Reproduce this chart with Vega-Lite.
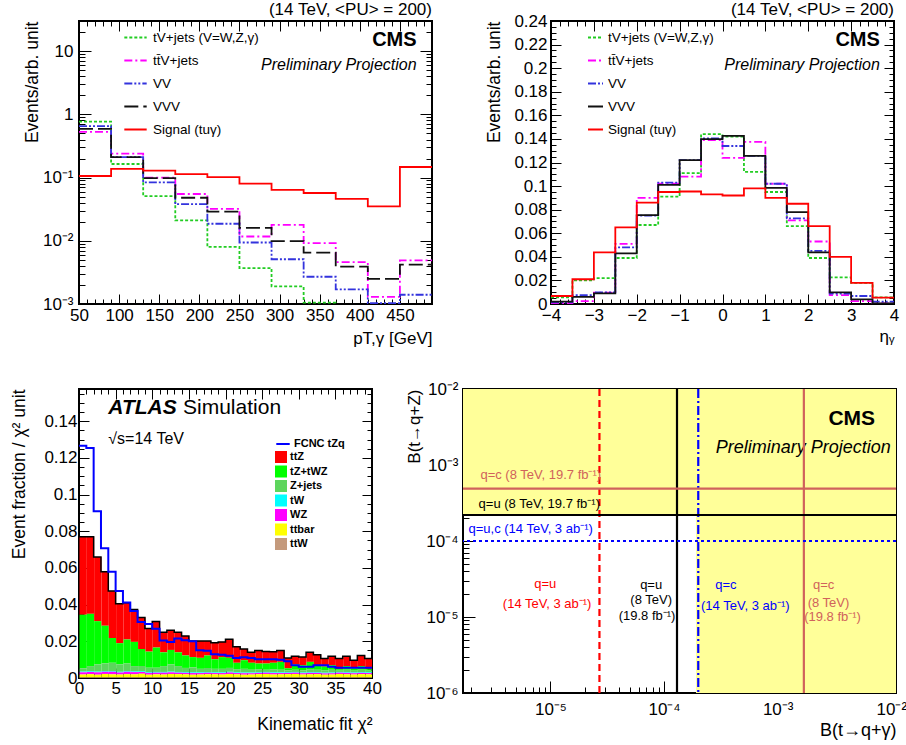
{
"$schema": "https://vega.github.io/schema/vega-lite/v6.json",
"background": "white",
"padding": {"left": 8, "top": 0, "right": 0, "bottom": 0},
"config": {
  "font": "Liberation Sans",
  "view": {"stroke": "black", "strokeWidth": 2},
  "axis": {"labelFont": "Liberation Sans", "titleFont": "Liberation Sans", "labelColor": "black", "titleColor": "black", "tickColor": "black", "tickWidth": 1, "domain": false, "grid": false, "labelFlush": false, "labelOverlap": false, "titleFontWeight": "normal", "labelBound": false, "zindex": 1},
  "legend": {"labelFont": "Liberation Sans", "labelColor": "black"},
  "title": {"font": "Liberation Sans", "color": "black", "fontWeight": "normal"}
},
"datasets": {
  "p1": [
    {"x":50,"tV+jets (V=W,Z,γ)":0.77,"tt̄V+jets":0.53,"VV":0.65,"VVV":0.59,"Signal (tuγ)":0.106},
    {"x":90,"tV+jets (V=W,Z,γ)":0.164,"tt̄V+jets":0.24,"VV":0.21,"VVV":0.21,"Signal (tuγ)":0.137},
    {"x":130,"tV+jets (V=W,Z,γ)":0.051,"tt̄V+jets":0.10,"VV":0.084,"VVV":0.098,"Signal (tuγ)":0.129},
    {"x":170,"tV+jets (V=W,Z,γ)":0.021,"tt̄V+jets":0.055,"VV":0.038,"VVV":0.048,"Signal (tuγ)":0.113},
    {"x":210,"tV+jets (V=W,Z,γ)":0.008,"tt̄V+jets":0.032,"VV":0.0186,"VVV":0.029,"Signal (tuγ)":0.102},
    {"x":250,"tV+jets (V=W,Z,γ)":0.0037,"tt̄V+jets":0.0117,"VV":0.0094,"VVV":0.016,"Signal (tuγ)":0.080},
    {"x":290,"tV+jets (V=W,Z,γ)":0.0019,"tt̄V+jets":0.0178,"VV":0.0051,"VVV":0.0099,"Signal (tuγ)":0.064},
    {"x":330,"tV+jets (V=W,Z,γ)":0.00105,"tt̄V+jets":0.0092,"VV":0.0027,"VVV":0.0065,"Signal (tuγ)":0.057},
    {"x":370,"tV+jets (V=W,Z,γ)":0.0009,"tt̄V+jets":0.0046,"VV":0.0017,"VVV":0.0039,"Signal (tuγ)":0.046},
    {"x":410,"tV+jets (V=W,Z,γ)":0.0009,"tt̄V+jets":0.0013,"VV":0.00103,"VVV":0.0025,"Signal (tuγ)":0.035},
    {"x":450,"tV+jets (V=W,Z,γ)":0.0009,"tt̄V+jets":0.0049,"VV":0.0014,"VVV":0.0042,"Signal (tuγ)":0.147},
    {"x":490,"tV+jets (V=W,Z,γ)":0.0009,"tt̄V+jets":0.0049,"VV":0.0014,"VVV":0.0042,"Signal (tuγ)":0.147}
  ],
  "p2": [
    {"x":-4,"tV+jets (V=W,Z,γ)":0.0056,"tt̄V+jets":0.0006,"VV":0.0014,"VVV":0.002,"Signal (tuγ)":0.0068},
    {"x":-3.5,"tV+jets (V=W,Z,γ)":0.020,"tt̄V+jets":0.0025,"VV":0.0076,"VVV":0.006,"Signal (tuγ)":0.021},
    {"x":-3,"tV+jets (V=W,Z,γ)":0.022,"tt̄V+jets":0.0096,"VV":0.0099,"VVV":0.009,"Signal (tuγ)":0.0438},
    {"x":-2.5,"tV+jets (V=W,Z,γ)":0.039,"tt̄V+jets":0.051,"VV":0.048,"VVV":0.043,"Signal (tuγ)":0.065},
    {"x":-2,"tV+jets (V=W,Z,γ)":0.067,"tt̄V+jets":0.090,"VV":0.075,"VVV":0.0754,"Signal (tuγ)":0.086},
    {"x":-1.5,"tV+jets (V=W,Z,γ)":0.091,"tt̄V+jets":0.102,"VV":0.103,"VVV":0.101,"Signal (tuγ)":0.095},
    {"x":-1,"tV+jets (V=W,Z,γ)":0.111,"tt̄V+jets":0.108,"VV":0.122,"VVV":0.122,"Signal (tuγ)":0.0954},
    {"x":-0.5,"tV+jets (V=W,Z,γ)":0.144,"tt̄V+jets":0.139,"VV":0.1405,"VVV":0.1398,"Signal (tuγ)":0.093},
    {"x":0,"tV+jets (V=W,Z,γ)":0.142,"tt̄V+jets":0.124,"VV":0.134,"VVV":0.1426,"Signal (tuγ)":0.092},
    {"x":0.5,"tV+jets (V=W,Z,γ)":0.112,"tt̄V+jets":0.1375,"VV":0.1256,"VVV":0.1256,"Signal (tuγ)":0.098},
    {"x":1,"tV+jets (V=W,Z,γ)":0.095,"tt̄V+jets":0.102,"VV":0.102,"VVV":0.0985,"Signal (tuγ)":0.090},
    {"x":1.5,"tV+jets (V=W,Z,γ)":0.066,"tt̄V+jets":0.071,"VV":0.0726,"VVV":0.078,"Signal (tuγ)":0.085},
    {"x":2,"tV+jets (V=W,Z,γ)":0.039,"tt̄V+jets":0.053,"VV":0.045,"VVV":0.0438,"Signal (tuγ)":0.066},
    {"x":2.5,"tV+jets (V=W,Z,γ)":0.0226,"tt̄V+jets":0.0076,"VV":0.0088,"VVV":0.0099,"Signal (tuγ)":0.040},
    {"x":3,"tV+jets (V=W,Z,γ)":0.018,"tt̄V+jets":0.0025,"VV":0.0068,"VVV":0.004,"Signal (tuγ)":0.018},
    {"x":3.5,"tV+jets (V=W,Z,γ)":0.0056,"tt̄V+jets":0.0006,"VV":0.002,"VVV":0.0006,"Signal (tuγ)":0.0054},
    {"x":4,"tV+jets (V=W,Z,γ)":0.0056,"tt̄V+jets":0.0006,"VV":0.002,"VVV":0.0006,"Signal (tuγ)":0.0054}
  ],
  "p3": [
    {"b":0,"e":1,"ttZ":0.0425,"tZ+tWZ":0.0292,"Z+jets":0.0018,"tW":0.0004,"WZ":0.0012,"ttbar":0.0016,"ttW":0.0003,"f":0.1266},
    {"b":1,"e":2,"ttZ":0.042,"tZ+tWZ":0.0285,"Z+jets":0.0028,"tW":0.0004,"WZ":0.0012,"ttbar":0.0018,"ttW":0.0003,"f":0.1254},
    {"b":2,"e":3,"ttZ":0.035,"tZ+tWZ":0.0236,"Z+jets":0.0039,"tW":0.0004,"WZ":0.0013,"ttbar":0.0015,"ttW":0.0003,"f":0.091},
    {"b":3,"e":4,"ttZ":0.0295,"tZ+tWZ":0.0205,"Z+jets":0.0042,"tW":0.0004,"WZ":0.0012,"ttbar":0.0019,"ttW":0.0003,"f":0.0708},
    {"b":4,"e":5,"ttZ":0.0256,"tZ+tWZ":0.0135,"Z+jets":0.0045,"tW":0.0004,"WZ":0.0014,"ttbar":0.0017,"ttW":0.0003,"f":0.058},
    {"b":5,"e":6,"ttZ":0.0215,"tZ+tWZ":0.0116,"Z+jets":0.004,"tW":0.0004,"WZ":0.0011,"ttbar":0.0016,"ttW":0.0003,"f":0.0475},
    {"b":6,"e":7,"ttZ":0.02,"tZ+tWZ":0.0131,"Z+jets":0.0041,"tW":0.0004,"WZ":0.0013,"ttbar":0.0018,"ttW":0.0003,"f":0.0412},
    {"b":7,"e":8,"ttZ":0.0176,"tZ+tWZ":0.0132,"Z+jets":0.0029,"tW":0.0004,"WZ":0.0012,"ttbar":0.0017,"ttW":0.0003,"f":0.0365},
    {"b":8,"e":9,"ttZ":0.0172,"tZ+tWZ":0.0093,"Z+jets":0.0028,"tW":0.0004,"WZ":0.001,"ttbar":0.002,"ttW":0.0003,"f":0.0306},
    {"b":9,"e":10,"ttZ":0.0126,"tZ+tWZ":0.0088,"Z+jets":0.0024,"tW":0.0004,"WZ":0.001,"ttbar":0.0015,"ttW":0.0003,"f":0.0294},
    {"b":10,"e":11,"ttZ":0.0142,"tZ+tWZ":0.011,"Z+jets":0.0023,"tW":0.0004,"WZ":0.0009,"ttbar":0.0017,"ttW":0.0003,"f":0.0268},
    {"b":11,"e":12,"ttZ":0.011,"tZ+tWZ":0.0075,"Z+jets":0.0032,"tW":0.0004,"WZ":0.001,"ttbar":0.0016,"ttW":0.0003,"f":0.0204},
    {"b":12,"e":13,"ttZ":0.0107,"tZ+tWZ":0.0079,"Z+jets":0.0039,"tW":0.0004,"WZ":0.0009,"ttbar":0.0019,"ttW":0.0003,"f":0.0197},
    {"b":13,"e":14,"ttZ":0.011,"tZ+tWZ":0.0075,"Z+jets":0.0032,"tW":0.0004,"WZ":0.0008,"ttbar":0.0018,"ttW":0.0003,"f":0.0215},
    {"b":14,"e":15,"ttZ":0.0106,"tZ+tWZ":0.0068,"Z+jets":0.0023,"tW":0.0004,"WZ":0.0008,"ttbar":0.0017,"ttW":0.0003,"f":0.0206},
    {"b":15,"e":16,"ttZ":0.0088,"tZ+tWZ":0.0056,"Z+jets":0.0027,"tW":0.0004,"WZ":0.0009,"ttbar":0.0015,"ttW":0.0003,"f":0.02},
    {"b":16,"e":17,"ttZ":0.0092,"tZ+tWZ":0.006,"Z+jets":0.0019,"tW":0.0004,"WZ":0.0008,"ttbar":0.0016,"ttW":0.0003,"f":0.0151},
    {"b":17,"e":18,"ttZ":0.0079,"tZ+tWZ":0.0068,"Z+jets":0.0022,"tW":0.0004,"WZ":0.0008,"ttbar":0.0018,"ttW":0.0003,"f":0.0148},
    {"b":18,"e":19,"ttZ":0.009,"tZ+tWZ":0.0052,"Z+jets":0.0019,"tW":0.0004,"WZ":0.0007,"ttbar":0.0017,"ttW":0.0003,"f":0.013},
    {"b":19,"e":20,"ttZ":0.0083,"tZ+tWZ":0.0064,"Z+jets":0.0019,"tW":0.0004,"WZ":0.0008,"ttbar":0.0016,"ttW":0.0003,"f":0.0127},
    {"b":20,"e":21,"ttZ":0.0101,"tZ+tWZ":0.0055,"Z+jets":0.0021,"tW":0.0004,"WZ":0.0008,"ttbar":0.0019,"ttW":0.0003,"f":0.0121},
    {"b":21,"e":22,"ttZ":0.0088,"tZ+tWZ":0.0035,"Z+jets":0.0017,"tW":0.0004,"WZ":0.0007,"ttbar":0.0017,"ttW":0.0003,"f":0.0109},
    {"b":22,"e":23,"ttZ":0.0061,"tZ+tWZ":0.0047,"Z+jets":0.002,"tW":0.0004,"WZ":0.0008,"ttbar":0.0015,"ttW":0.0003,"f":0.0113},
    {"b":23,"e":24,"ttZ":0.0058,"tZ+tWZ":0.0038,"Z+jets":0.0015,"tW":0.0004,"WZ":0.0007,"ttbar":0.0016,"ttW":0.0003,"f":0.0109},
    {"b":24,"e":25,"ttZ":0.0071,"tZ+tWZ":0.0031,"Z+jets":0.0016,"tW":0.0004,"WZ":0.0007,"ttbar":0.0018,"ttW":0.0003,"f":0.0102},
    {"b":25,"e":26,"ttZ":0.0065,"tZ+tWZ":0.0034,"Z+jets":0.0012,"tW":0.0004,"WZ":0.0007,"ttbar":0.0019,"ttW":0.0003,"f":0.0102},
    {"b":26,"e":27,"ttZ":0.006,"tZ+tWZ":0.0035,"Z+jets":0.0017,"tW":0.0004,"WZ":0.0008,"ttbar":0.0016,"ttW":0.0003,"f":0.0102},
    {"b":27,"e":28,"ttZ":0.0062,"tZ+tWZ":0.0043,"Z+jets":0.0014,"tW":0.0004,"WZ":0.0007,"ttbar":0.0017,"ttW":0.0003,"f":0.0099},
    {"b":28,"e":29,"ttZ":0.0056,"tZ+tWZ":0.0011,"Z+jets":0.001,"tW":0.0004,"WZ":0.0007,"ttbar":0.0018,"ttW":0.0003,"f":0.0092},
    {"b":29,"e":30,"ttZ":0.0044,"tZ+tWZ":0.0029,"Z+jets":0.0012,"tW":0.0004,"WZ":0.0007,"ttbar":0.0019,"ttW":0.0003,"f":0.007},
    {"b":30,"e":31,"ttZ":0.0044,"tZ+tWZ":0.0028,"Z+jets":0.0012,"tW":0.0004,"WZ":0.0007,"ttbar":0.0016,"ttW":0.0003,"f":0.0062},
    {"b":31,"e":32,"ttZ":0.0053,"tZ+tWZ":0.004,"Z+jets":0.0016,"tW":0.0004,"WZ":0.0008,"ttbar":0.0017,"ttW":0.0003,"f":0.0062},
    {"b":32,"e":33,"ttZ":0.0057,"tZ+tWZ":0.0025,"Z+jets":0.0013,"tW":0.0004,"WZ":0.0007,"ttbar":0.0018,"ttW":0.0003,"f":0.007},
    {"b":33,"e":34,"ttZ":0.0044,"tZ+tWZ":0.002,"Z+jets":0.0013,"tW":0.0004,"WZ":0.0007,"ttbar":0.0015,"ttW":0.0003,"f":0.007},
    {"b":34,"e":35,"ttZ":0.0048,"tZ+tWZ":0.0025,"Z+jets":0.0015,"tW":0.0004,"WZ":0.0007,"ttbar":0.0016,"ttW":0.0003,"f":0.0062},
    {"b":35,"e":36,"ttZ":0.0058,"tZ+tWZ":0.0008,"Z+jets":0.0007,"tW":0.0004,"WZ":0.0007,"ttbar":0.0019,"ttW":0.0003,"f":0.0056},
    {"b":36,"e":37,"ttZ":0.0053,"tZ+tWZ":0.002,"Z+jets":0.0013,"tW":0.0004,"WZ":0.0008,"ttbar":0.0017,"ttW":0.0003,"f":0.0056},
    {"b":37,"e":38,"ttZ":0.0044,"tZ+tWZ":0.0013,"Z+jets":0.001,"tW":0.0004,"WZ":0.0007,"ttbar":0.0016,"ttW":0.0003,"f":0.0056},
    {"b":38,"e":39,"ttZ":0.0058,"tZ+tWZ":0.002,"Z+jets":0.0013,"tW":0.0004,"WZ":0.0007,"ttbar":0.0018,"ttW":0.0003,"f":0.0056},
    {"b":39,"e":40,"ttZ":0.0058,"tZ+tWZ":0.0008,"Z+jets":0.0009,"tW":0.0004,"WZ":0.0007,"ttbar":0.0017,"ttW":0.0003,"f":0.0056},
    {"b":40,"e":41,"ttZ":0.0058,"tZ+tWZ":0.0008,"Z+jets":0.0009,"tW":0.0004,"WZ":0.0007,"ttbar":0.0017,"ttW":0.0003,"f":0.0056}
  ],
  "p3order": [
    {"p":"ttW","o":0},{"p":"ttbar","o":1},{"p":"WZ","o":2},{"p":"tW","o":3},{"p":"Z+jets","o":4},{"p":"tZ+tWZ","o":5},{"p":"ttZ","o":6}
  ],
  "p4regions": [
    {"x1":1.7e-6,"x2":0.011,"y1":2.2e-4,"y2":0.01},
    {"x1":1.91e-4,"x2":0.011,"y1":1e-6,"y2":2.2e-4}
  ],
  "p4lines": [
    {"dir":"v","val":2.7e-5,"lim":"u14"},
    {"dir":"v","val":1.3e-4,"lim":"u8"},
    {"dir":"v","val":2.0e-4,"lim":"c14"},
    {"dir":"v","val":1.7e-3,"lim":"c8"},
    {"dir":"h","val":4.9e-4,"lim":"c8"},
    {"dir":"h","val":2.2e-4,"lim":"u8"},
    {"dir":"h","val":1e-4,"lim":"uc14"}
  ],
  "p4text": [
    {"dir":"h","x":2.42e-6,"y":7.33e-4,"t":"q=c (8 TeV, 19.7 fb⁻¹)","lim":"c8"},
    {"dir":"h","x":2.33e-6,"y":3.05e-4,"t":"q=u (8 TeV, 19.7 fb⁻¹)","lim":"u8"},
    {"dir":"h","x":1.9e-6,"y":1.42e-4,"t":"q=u,c (14 TeV, 3 ab⁻¹)","lim":"uc14"},
    {"dir":"v","x":9.0e-6,"y":2.73e-5,"t":"q=u","lim":"u14"},
    {"dir":"v","x":9.35e-6,"y":1.49e-5,"t":"(14 TeV, 3 ab⁻¹)","lim":"u14"},
    {"dir":"v","x":7.7e-5,"y":2.6e-5,"t":"q=u","lim":"u8"},
    {"dir":"v","x":7.7e-5,"y":1.67e-5,"t":"(8 TeV)","lim":"u8"},
    {"dir":"v","x":7.08e-5,"y":1.02e-5,"t":"(19.8 fb⁻¹)","lim":"u8"},
    {"dir":"v","x":3.5e-4,"y":2.6e-5,"t":"q=c","lim":"c14"},
    {"dir":"v","x":5.19e-4,"y":1.39e-5,"t":"(14 TeV, 3 ab⁻¹)","lim":"c14"},
    {"dir":"v","x":2.54e-3,"y":2.6e-5,"t":"q=c","lim":"c8"},
    {"dir":"v","x":2.8e-3,"y":1.54e-5,"t":"(8 TeV)","lim":"c8"},
    {"dir":"v","x":3.04e-3,"y":9.95e-6,"t":"(19.8 fb⁻¹)","lim":"c8"}
  ]
},
"spacing": 32,
"resolve": {"scale": {"color": "independent", "strokeDash": "independent", "fill": "independent", "stroke": "independent", "x": "independent", "y": "independent"}, "legend": {"color": "independent", "strokeDash": "independent", "fill": "independent", "stroke": "independent"}},
"vconcat": [
 {
  "spacing": 50,
  "resolve": {"scale": {"color": "independent", "strokeDash": "independent", "x": "independent", "y": "independent"}, "legend": {"color": "independent", "strokeDash": "independent"}},
  "hconcat": [
   {
    "width": 353, "height": 283,
    "title": {"text": "(14 TeV, <PU> = 200)", "anchor": "end", "frame": "group", "fontSize": 17, "offset": -7},
    "resolve": {"axis": {"x": "independent", "y": "independent"}},
    "layer": [
     {
      "data": {"name": "p1"},
      "transform": [{"fold": ["tV+jets (V=W,Z,γ)", "tt̄V+jets", "VV", "VVV", "Signal (tuγ)"], "as": ["s", "v"]}],
      "mark": {"type": "line", "interpolate": "step-after", "strokeWidth": 1.8, "clip": true},
      "encoding": {
        "x": {"field": "x", "type": "quantitative", "scale": {"domain": [50, 490], "nice": false, "zero": false},
              "axis": {"title": "pT,γ [GeV]", "titleAnchor": "end", "titleFontSize": 17, "titlePadding": 2, "labelFontSize": 17, "labelPadding": 13, "tickCount": 44,
                       "labelExpr": "abs(datum.value/50 - round(datum.value/50)) < 0.001 ? format(datum.value, 'd') : ''",
                       "tickSize": {"condition": {"test": "abs(datum.value/50 - round(datum.value/50)) < 0.001", "value": -10}, "value": -5}}},
        "y": {"field": "v", "type": "quantitative", "scale": {"type": "log", "domain": [0.001, 30], "nice": false},
              "axis": {"title": "Events/arb. unit", "titleAnchor": "end", "titleFontSize": 17.5, "titlePadding": 3, "labelFontSize": 17, "labelPadding": 18, "minExtent": 35, "maxExtent": 35, "tickCount": 30,
                       "labelExpr": "abs(log(datum.value)/LN10 - round(log(datum.value)/LN10)) < 0.001 ? ['10⁻⁶','10⁻⁵','10⁻⁴','10⁻³','10⁻²','10⁻¹','1','10'][round(log(datum.value)/LN10) + 6] : ''",
                       "tickSize": {"condition": {"test": "abs(log(datum.value)/LN10 - round(log(datum.value)/LN10)) < 0.001", "value": -12}, "value": -6}}},
        "color": {"field": "s", "type": "nominal",
                  "scale": {"domain": ["tV+jets (V=W,Z,γ)", "tt̄V+jets", "VV", "VVV", "Signal (tuγ)"], "range": ["#22cc22", "#ff00ff", "#3333dd", "#111111", "#ff0000"]},
                  "legend": {"title": null, "orient": "none", "legendX": 44, "legendY": 4, "symbolType": "stroke", "symbolSize": 500, "symbolStrokeWidth": 2, "labelFontSize": 13.5, "rowPadding": 4, "labelOffset": 5, "labelLimit": 400}},
        "strokeDash": {"field": "s", "type": "nominal",
                  "scale": {"domain": ["tV+jets (V=W,Z,γ)", "tt̄V+jets", "VV", "VVV", "Signal (tuγ)"], "range": [[3,2],[8,3,2,3],[8,2,2,2,2,2],[14,5],[1,0]]},
                  "legend": {"title": null, "orient": "none", "legendX": 44, "legendY": 4, "symbolType": "stroke", "symbolSize": 500, "symbolStrokeWidth": 2, "labelFontSize": 13.5, "rowPadding": 4, "labelOffset": 5, "labelLimit": 400}}
      }
     },
     {"data": {"values": [{}]}, "mark": {"type": "text", "align": "right", "fontWeight": "bold", "fontSize": 20},
      "encoding": {
        "x": {"datum": 470.8, "axis": {"orient": "top", "labels": false, "title": null, "minExtent": 0, "maxExtent": 0, "tickCount": 44, "tickSize": {"condition": {"test": "abs(datum.value/50 - round(datum.value/50)) < 0.001", "value": -10}, "value": -5}}},
        "y": {"datum": 14.9, "axis": {"orient": "right", "labels": false, "title": null, "minExtent": 0, "maxExtent": 0, "tickCount": 30, "tickSize": {"condition": {"test": "abs(log(datum.value)/LN10 - round(log(datum.value)/LN10)) < 0.001", "value": -12}, "value": -6}}},
        "text": {"value": "CMS"}}},
     {"data": {"values": [{}]}, "mark": {"type": "text", "align": "right", "fontStyle": "italic", "fontSize": 16}, "encoding": {"x": {"datum": 470.8, "axis": null}, "y": {"datum": 6.14, "axis": null}, "text": {"value": "Preliminary Projection"}}}
    ]
   },
   {
    "width": 343, "height": 283,
    "title": {"text": "(14 TeV, <PU> = 200)", "anchor": "end", "frame": "group", "fontSize": 17, "offset": -7},
    "resolve": {"axis": {"x": "independent", "y": "independent"}},
    "layer": [
     {
      "data": {"name": "p2"},
      "transform": [{"fold": ["tV+jets (V=W,Z,γ)", "tt̄V+jets", "VV", "VVV", "Signal (tuγ)"], "as": ["s", "v"]}],
      "mark": {"type": "line", "interpolate": "step-after", "strokeWidth": 1.8, "clip": true},
      "encoding": {
        "x": {"field": "x", "type": "quantitative", "scale": {"domain": [-4, 4], "nice": false},
              "axis": {"title": "ηᵧ", "titleAnchor": "end", "titleFontSize": 17, "titlePadding": 0, "labelFontSize": 17, "labelPadding": 13, "tickCount": 32,
                       "labelExpr": "abs(datum.value - round(datum.value)) < 0.001 ? format(round(datum.value), 'd') : ''",
                       "tickSize": {"condition": {"test": "abs(datum.value - round(datum.value)) < 0.001", "value": -10}, "value": -5}}},
        "y": {"field": "v", "type": "quantitative", "scale": {"domain": [0, 0.24], "nice": false},
              "axis": {"title": "Events/arb. unit", "titleAnchor": "end", "titleFontSize": 17.5, "titlePadding": 10, "labelFontSize": 17, "labelPadding": 14, "minExtent": 38, "maxExtent": 38, "tickCount": 48,
                       "labelExpr": "abs(datum.value/0.02 - round(datum.value/0.02)) < 0.001 ? format(datum.value, '~g') : ''",
                       "tickSize": {"condition": {"test": "abs(datum.value/0.02 - round(datum.value/0.02)) < 0.001", "value": -10}, "value": -5}}},
        "color": {"field": "s", "type": "nominal",
                  "scale": {"domain": ["tV+jets (V=W,Z,γ)", "tt̄V+jets", "VV", "VVV", "Signal (tuγ)"], "range": ["#22cc22", "#ff00ff", "#3333dd", "#111111", "#ff0000"]},
                  "legend": {"title": null, "orient": "none", "legendX": 36, "legendY": 8, "symbolType": "stroke", "symbolSize": 225, "symbolStrokeWidth": 2, "labelFontSize": 13.5, "rowPadding": 8, "labelOffset": 4, "labelLimit": 400}},
        "strokeDash": {"field": "s", "type": "nominal",
                  "scale": {"domain": ["tV+jets (V=W,Z,γ)", "tt̄V+jets", "VV", "VVV", "Signal (tuγ)"], "range": [[3,2],[8,3,2,3],[8,2,2,2,2,2],[1,0],[1,0]]},
                  "legend": {"title": null, "orient": "none", "legendX": 36, "legendY": 8, "symbolType": "stroke", "symbolSize": 225, "symbolStrokeWidth": 2, "labelFontSize": 13.5, "rowPadding": 8, "labelOffset": 4, "labelLimit": 400}}
      }
     },
     {"data": {"values": [{}]}, "mark": {"type": "text", "align": "right", "fontWeight": "bold", "fontSize": 20},
      "encoding": {
        "x": {"datum": 3.67, "axis": {"orient": "top", "labels": false, "title": null, "minExtent": 0, "maxExtent": 0, "tickCount": 32, "tickSize": {"condition": {"test": "abs(datum.value - round(datum.value)) < 0.001", "value": -10}, "value": -5}}},
        "y": {"datum": 0.2236, "axis": {"orient": "right", "labels": false, "title": null, "minExtent": 0, "maxExtent": 0, "tickCount": 48, "tickSize": {"condition": {"test": "abs(datum.value/0.02 - round(datum.value/0.02)) < 0.001", "value": -10}, "value": -5}}},
        "text": {"value": "CMS"}}},
     {"data": {"values": [{}]}, "mark": {"type": "text", "align": "right", "fontStyle": "italic", "fontSize": 16}, "encoding": {"x": {"datum": 3.67, "axis": null}, "y": {"datum": 0.2029, "axis": null}, "text": {"value": "Preliminary Projection"}}}
    ]
   }
  ]
 },
 {
  "spacing": 21,
  "resolve": {"scale": {"fill": "independent", "stroke": "independent", "color": "independent", "strokeDash": "independent", "x": "independent", "y": "independent"}, "legend": {"fill": "independent", "stroke": "independent", "color": "independent", "strokeDash": "independent"}},
  "hconcat": [
   {
    "width": 293, "height": 289,
    "resolve": {"axis": {"x": "independent", "y": "independent"}},
    "layer": [
     {
      "data": {"name": "p3"},
      "transform": [
        {"fold": ["ttZ", "tZ+tWZ", "Z+jets", "tW", "WZ", "ttbar", "ttW"], "as": ["p", "v"]},
        {"lookup": "p", "from": {"data": {"name": "p3order"}, "key": "p", "fields": ["o"]}}
      ],
      "mark": {"type": "bar", "binSpacing": 0, "clip": true},
      "encoding": {
        "x": {"field": "b", "type": "quantitative", "bin": {"binned": true}, "scale": {"domain": [0, 40], "nice": false},
              "axis": {"title": "Kinematic fit χ²", "titleAnchor": "end", "titleFontSize": 17.5, "titlePadding": 14, "labelFontSize": 17, "labelPadding": 12, "tickCount": 40,
                       "labelExpr": "abs(datum.value/5 - round(datum.value/5)) < 0.001 ? format(datum.value, 'd') : ''",
                       "tickSize": {"condition": {"test": "abs(datum.value/5 - round(datum.value/5)) < 0.001", "value": -10}, "value": -5}}},
        "x2": {"field": "e"},
        "y": {"field": "v", "type": "quantitative", "scale": {"domain": [0, 0.1576], "nice": false},
              "axis": {"title": "Event fraction / χ² unit", "titleAnchor": "end", "titleFontSize": 17.5, "titlePadding": 15, "labelFontSize": 17, "labelPadding": 12, "minExtent": 36, "maxExtent": 36, "tickCount": 32,
                       "labelExpr": "abs(datum.value/0.02 - round(datum.value/0.02)) < 0.001 ? format(datum.value, '~g') : ''",
                       "tickSize": {"condition": {"test": "abs(datum.value/0.02 - round(datum.value/0.02)) < 0.001", "value": -10}, "value": -5}}},
        "fill": {"field": "p", "type": "nominal",
                 "scale": {"domain": ["ttZ", "tZ+tWZ", "Z+jets", "tW", "WZ", "ttbar", "ttW"], "range": ["#ff0000", "#00ff00", "#5dd55d", "#00ffff", "#ff00ff", "#ffff00", "#c49a7c"]},
                 "legend": {"title": null, "orient": "none", "legendX": 196, "legendY": 62, "symbolType": "square", "symbolSize": 144, "symbolStrokeWidth": 0, "labelFontSize": 11, "labelFontWeight": "bold", "rowPadding": 2.5, "labelOffset": 3}},
        "order": {"field": "o", "type": "quantitative", "sort": "ascending"}
      }
     },
     {
      "data": {"name": "p3"},
      "transform": [
        {"fold": ["ttZ", "tZ+tWZ", "Z+jets", "tW", "WZ", "ttbar", "ttW"], "as": ["p", "v"]},
        {"aggregate": [{"op": "sum", "field": "v", "as": "tot"}], "groupby": ["b"]}
      ],
      "mark": {"type": "line", "interpolate": "step-after", "color": "black", "strokeWidth": 1.5, "clip": true},
      "encoding": {"x": {"field": "b", "type": "quantitative", "axis": null}, "y": {"field": "tot", "type": "quantitative", "axis": null}}
     },
     {
      "data": {"name": "p3"},
      "mark": {"type": "line", "interpolate": "step-after", "strokeWidth": 2, "clip": true},
      "encoding": {"x": {"field": "b", "type": "quantitative", "axis": null}, "y": {"field": "f", "type": "quantitative", "axis": null},
                   "stroke": {"datum": "FCNC tZq", "scale": {"range": ["#0000ff"]},
                              "legend": {"title": null, "orient": "none", "legendX": 196, "legendY": 47, "symbolType": "stroke", "symbolSize": 180, "symbolStrokeWidth": 2, "labelFontSize": 11, "labelFontWeight": "bold", "labelOffset": 3}}}
     },
     {"data": {"values": [{}]}, "mark": {"type": "text", "align": "left", "fontWeight": "bold", "fontStyle": "italic", "fontSize": 21},
      "encoding": {
        "x": {"datum": 4.0, "axis": {"orient": "top", "labels": false, "title": null, "minExtent": 0, "maxExtent": 0, "tickCount": 40, "tickSize": {"condition": {"test": "abs(datum.value/5 - round(datum.value/5)) < 0.001", "value": -10}, "value": -5}}},
        "y": {"datum": 0.1475, "axis": {"orient": "right", "labels": false, "title": null, "minExtent": 0, "maxExtent": 0, "tickCount": 32, "tickSize": {"condition": {"test": "abs(datum.value/0.02 - round(datum.value/0.02)) < 0.001", "value": -10}, "value": -5}}},
        "text": {"value": "ATLAS"}}},
     {"data": {"values": [{}]}, "mark": {"type": "text", "align": "left", "fontSize": 21}, "encoding": {"x": {"datum": 14.2, "axis": null}, "y": {"datum": 0.1475, "axis": null}, "text": {"value": "Simulation"}}},
     {"data": {"values": [{}]}, "mark": {"type": "text", "align": "left", "fontSize": 16}, "encoding": {"x": {"datum": 4.0, "axis": null}, "y": {"datum": 0.1303, "axis": null}, "text": {"value": "√s=14 TeV"}}}
    ]
   },
   {
    "width": 433, "height": 304,
    "resolve": {"axis": {"x": "independent", "y": "independent"}},
    "layer": [
     {
      "data": {"name": "p4regions"},
      "mark": {"type": "rect", "color": "#ffff99"},
      "encoding": {
        "x": {"field": "x1", "type": "quantitative", "scale": {"type": "log", "domain": [1.7e-6, 0.011], "nice": false},
              "axis": {"title": "B(t→q+γ)", "titleAnchor": "end", "titleFontSize": 18, "titlePadding": -2, "labelFontSize": 17, "labelPadding": 20, "tickCount": 30,
                       "labelExpr": "abs(log(datum.value)/LN10 - round(log(datum.value)/LN10)) < 0.001 ? ['10⁻⁶','10⁻⁵','10⁻⁴','10⁻³','10⁻²','10⁻¹','1','10'][round(log(datum.value)/LN10) + 6] : ''",
                       "tickSize": {"condition": {"test": "abs(log(datum.value)/LN10 - round(log(datum.value)/LN10)) < 0.001", "value": -12}, "value": -6}}},
        "x2": {"field": "x2"},
        "y": {"field": "y1", "type": "quantitative", "scale": {"type": "log", "domain": [1e-6, 0.01], "nice": false},
              "axis": {"title": "B(t→q+Z)", "titleAnchor": "end", "titleFontSize": 17, "titlePadding": 5, "labelFontSize": 17, "labelPadding": 17, "minExtent": 35, "maxExtent": 35, "tickCount": 30,
                       "labelExpr": "abs(log(datum.value)/LN10 - round(log(datum.value)/LN10)) < 0.001 ? ['10⁻⁶','10⁻⁵','10⁻⁴','10⁻³','10⁻²','10⁻¹','1','10'][round(log(datum.value)/LN10) + 6] : ''",
                       "tickSize": {"condition": {"test": "abs(log(datum.value)/LN10 - round(log(datum.value)/LN10)) < 0.001", "value": -12}, "value": -6}}},
        "y2": {"field": "y2"}
      }
     },
     {"data": {"values": [{}]}, "mark": {"type": "text", "align": "right", "fontWeight": "bold", "fontSize": 21},
      "encoding": {
        "x": {"datum": 7.2e-3, "axis": {"orient": "top", "labels": false, "title": null, "minExtent": 0, "maxExtent": 0, "tickCount": 30, "tickSize": {"condition": {"test": "abs(log(datum.value)/LN10 - round(log(datum.value)/LN10)) < 0.001", "value": -12}, "value": -6}}},
        "y": {"datum": 4.08e-3, "axis": {"orient": "right", "labels": false, "title": null, "minExtent": 0, "maxExtent": 0, "tickCount": 30, "tickSize": {"condition": {"test": "abs(log(datum.value)/LN10 - round(log(datum.value)/LN10)) < 0.001", "value": -12}, "value": -6}}},
        "text": {"value": "CMS"}}},
     {"data": {"values": [{}]}, "mark": {"type": "text", "align": "right", "fontStyle": "italic", "fontSize": 18}, "encoding": {"x": {"datum": 9.9e-3, "axis": null}, "y": {"datum": 1.65e-3, "axis": null}, "text": {"value": "Preliminary Projection"}}},
     {
      "data": {"name": "p4lines"},
      "transform": [{"filter": "datum.dir == 'v'"}],
      "mark": {"type": "rule", "strokeWidth": 2.2},
      "encoding": {
        "x": {"field": "val", "type": "quantitative", "axis": null},
        "color": {"field": "lim", "type": "nominal", "scale": {"domain": ["u14", "u8", "c14", "c8", "uc14"], "range": ["#ff0000", "#000000", "#0000ff", "#d0625c", "#0000ff"]}, "legend": null},
        "strokeDash": {"field": "lim", "type": "nominal", "scale": {"domain": ["u14", "u8", "c14", "c8", "uc14"], "range": [[7,4],[1,0],[9,3,2,3],[1,0],[3,3]]}, "legend": null}
      }
     },
     {
      "data": {"name": "p4lines"},
      "transform": [{"filter": "datum.dir == 'h'"}],
      "mark": {"type": "rule", "strokeWidth": 2.2},
      "encoding": {
        "y": {"field": "val", "type": "quantitative", "axis": null},
        "color": {"field": "lim", "type": "nominal", "legend": null},
        "strokeDash": {"field": "lim", "type": "nominal", "legend": null}
      }
     },
     {
      "data": {"name": "p4text"},
      "transform": [{"filter": "datum.dir == 'h'"}],
      "mark": {"type": "text", "align": "left", "fontSize": 13},
      "encoding": {"x": {"field": "x", "type": "quantitative", "axis": null}, "y": {"field": "y", "type": "quantitative", "axis": null}, "text": {"field": "t"}, "color": {"field": "lim", "type": "nominal", "legend": null}}
     },
     {
      "data": {"name": "p4text"},
      "transform": [{"filter": "datum.dir == 'v'"}],
      "mark": {"type": "text", "align": "center", "fontSize": 13},
      "encoding": {"x": {"field": "x", "type": "quantitative", "axis": null}, "y": {"field": "y", "type": "quantitative", "axis": null}, "text": {"field": "t"}, "color": {"field": "lim", "type": "nominal", "legend": null}}
     }
    ]
   }
  ]
 }
]
}
